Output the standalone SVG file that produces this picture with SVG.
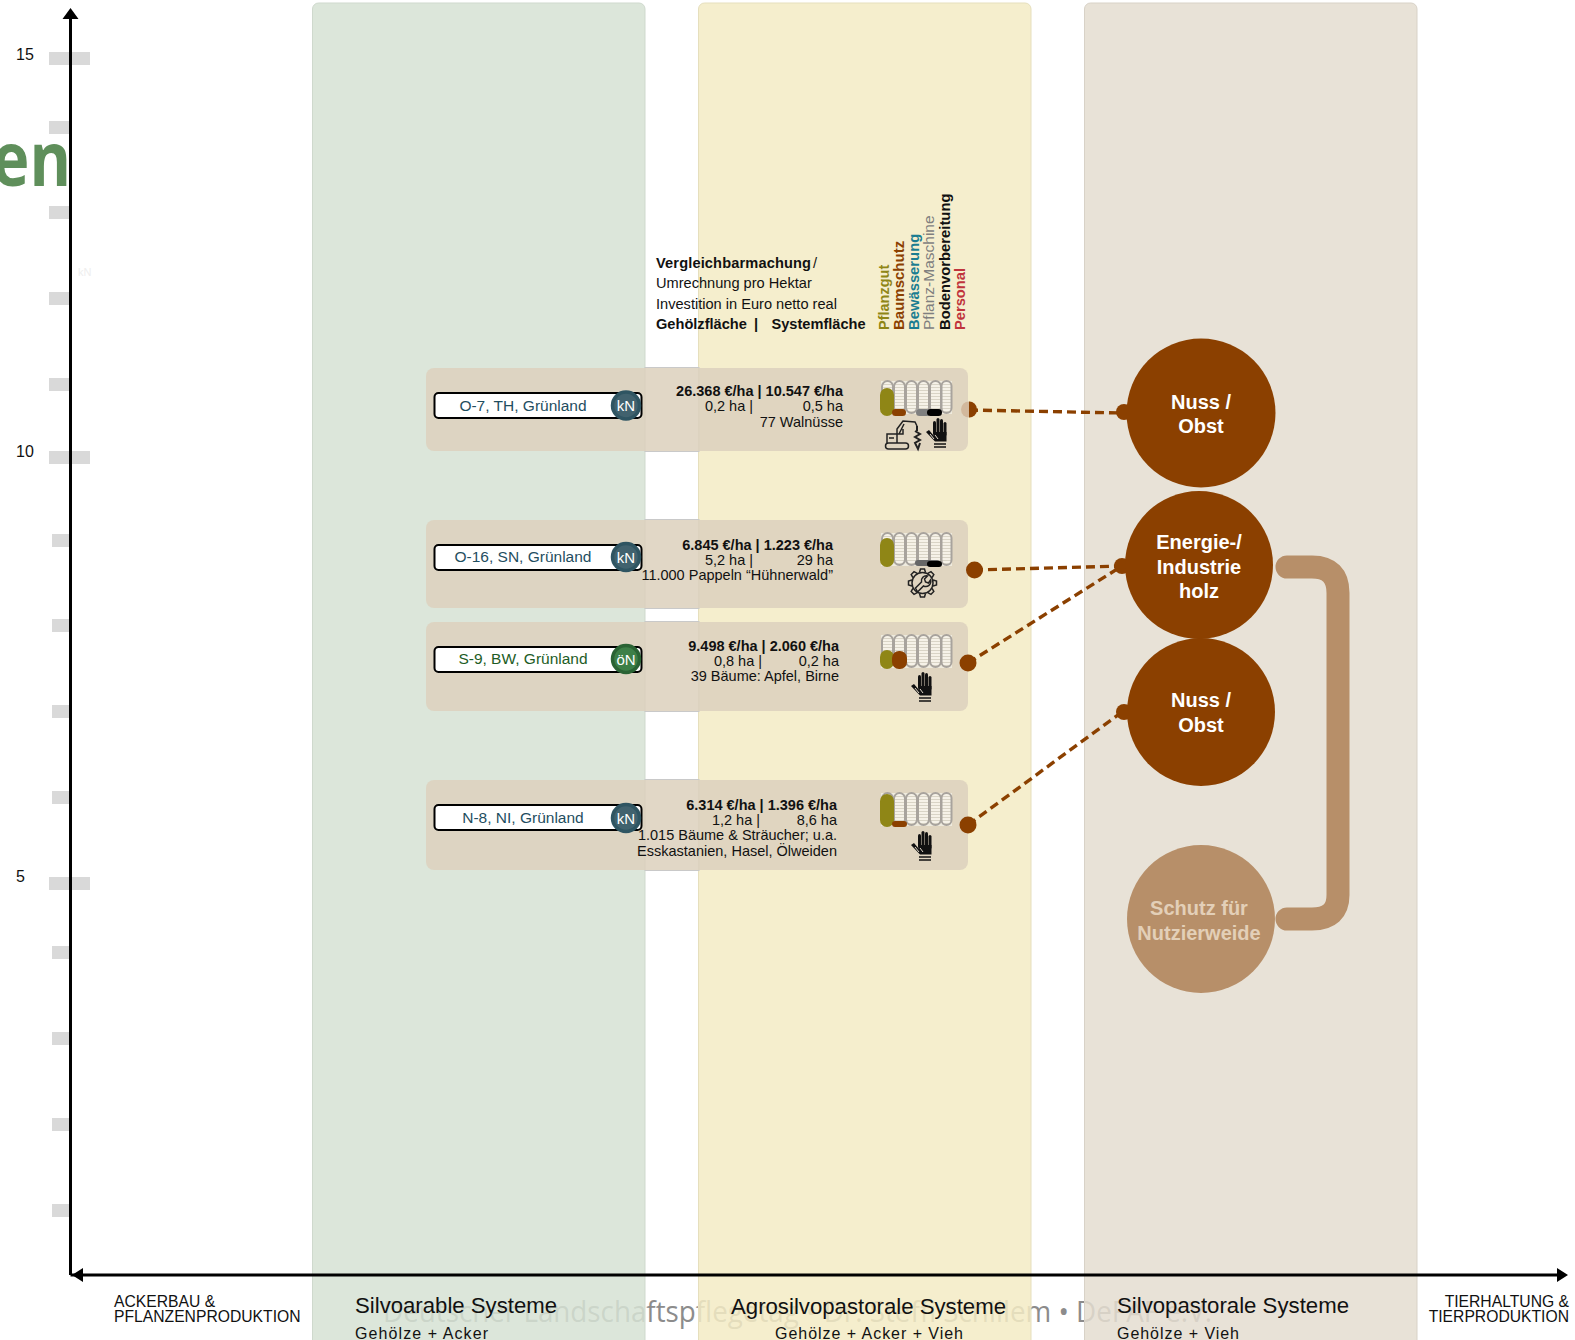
<svg xmlns="http://www.w3.org/2000/svg" width="1575" height="1340" viewBox="0 0 1575 1340">
<defs>
<style>
text{font-family:"Liberation Sans",Arial,sans-serif;fill:#111}
.r{text-anchor:end;font-size:14.5px}
.b{font-weight:bold}
.m{text-anchor:middle}
.tick{fill:#d9d9d9}
.panel{fill:#ddd2be;fill-opacity:.88;stroke:none}
.edge{fill:none;stroke:#c9c9c9;stroke-width:1}
.pill{fill:#fff;stroke:#000;stroke-width:2}
.lab{font-size:15.5px;text-anchor:middle}
.badge{stroke-width:3.5}
.badget{fill:#fff;font-size:15px;text-anchor:middle}
.conn{fill:none;stroke:#8b4000;stroke-width:3.4;stroke-dasharray:9 5}
.dot{fill:#8b4000}
.big{fill:#8b4000}
.bigt{fill:#fff;font-weight:bold;font-size:20px;text-anchor:middle}
.slot{fill:url(#stripes);stroke:#a8a39d;stroke-width:2}
.axis{fill:none;stroke:#000;stroke-width:3}
.leg{font-size:14.6px}
.ic{fill:none;stroke:#222;stroke-width:1.5}
.hw{fill:none;stroke:#e3dacb;stroke-width:1}
</style>
<pattern id="stripes" width="4" height="3" patternUnits="userSpaceOnUse"><rect width="4" height="3" fill="#f6f2e8"/><rect width="4" height="1" fill="#d9d4c6"/></pattern>
<g id="slots"><rect x="0" y="0" width="71" height="33" fill="#efebde"/><rect class="slot" x="1" y="0" width="11" height="32" rx="5.500"/><rect class="slot" x="13" y="0" width="11" height="32" rx="5.500"/><rect class="slot" x="25" y="0" width="11" height="32" rx="5.500"/><rect class="slot" x="37" y="0" width="11" height="32" rx="5.500"/><rect class="slot" x="49" y="0" width="11" height="32" rx="5.500"/><rect class="slot" x="60.500" y="0" width="10" height="32" rx="5"/></g>
<g id="hand"><g fill="#111"><rect x="-3" y="-11" width="3" height="14" rx="1.500"/><rect x="0.500" y="-14" width="3" height="17" rx="1.500"/><rect x="4" y="-13" width="3" height="16" rx="1.500"/><rect x="7.500" y="-10" width="3" height="14" rx="1.500"/><path d="M-3 0H10.500V9.500H-1ZM-10 0-7-2-2 4-1 9.500Z"/></g><path class="hw" d="M-6 2-2 7M-1 3 2 7"/><path d="M-2 12H10M-2 15H10" stroke="#111" stroke-width="1.500" fill="none"/></g>
<path id="tooth" d="M-3-10.500-2-14H2L3-10.500"/>
</defs>
<text x="383" y="1322" style="font-family:'Open Sans',sans-serif;font-size:30px;fill:#8c8c8c" textLength="829" lengthAdjust="spacingAndGlyphs">Deutscher Landschaftspflegetag • Dr. Steffi Schillem • DeFAF e.V.</text>
<text x="-8" y="186" style="font-family:'Open Sans',sans-serif;font-weight:bold;font-size:75px;fill:#5f8f5b" textLength="79" lengthAdjust="spacingAndGlyphs">en</text>
<g id="ticks">
<rect class="tick" x="49" y="52" width="41" height="13"/><rect class="tick" x="49" y="451" width="41" height="13"/><rect class="tick" x="49" y="877" width="41" height="13"/>
<rect class="tick" x="49" y="121" width="21" height="13"/><rect class="tick" x="49" y="206" width="21" height="13"/><rect class="tick" x="49" y="292" width="21" height="13"/><rect class="tick" x="49" y="378" width="21" height="13"/>
<rect class="tick" x="52" y="534" width="18" height="13"/><rect class="tick" x="52" y="619" width="18" height="13"/><rect class="tick" x="52" y="705" width="18" height="13"/><rect class="tick" x="52" y="791" width="18" height="13"/>
<rect class="tick" x="52" y="946" width="18" height="13"/><rect class="tick" x="52" y="1032" width="18" height="13"/><rect class="tick" x="52" y="1118" width="18" height="13"/><rect class="tick" x="52" y="1204" width="18" height="13"/>
</g>
<text x="16" y="60" font-size="16">15</text><text x="16" y="457" font-size="16">10</text><text x="16" y="882" font-size="16">5</text>
<text x="78" y="276" font-size="11" style="fill:#eee">kN</text>
<g id="bands">
<rect id="band-silvoarable" x="312.500" y="3" width="332.500" height="1345" rx="6" fill="#d6e2d4" fill-opacity=".85" stroke="#cfd9cd"/>
<rect id="band-agro" x="698.500" y="3" width="332.500" height="1345" rx="6" fill="#f3ebc4" fill-opacity=".85" stroke="#e6dfbd"/>
<rect id="band-silvopastoral" x="1084.500" y="3" width="332.500" height="1345" rx="6" fill="#e4ddd0" fill-opacity=".85" stroke="#d8d2c7"/>
</g>
<g id="axes">
<path class="axis" d="M70.500 1275V16M70.500 1275H1558"/>
<path d="M70.500 8 62.500 19H78.500ZM72 1275 83 1268V1282ZM1568 1275 1557 1268V1282Z" fill="#000"/>
</g>
<text x="114" y="1307" font-size="15.7">ACKERBAU &amp;</text><text x="114" y="1322" font-size="15.7">PFLANZENPRODUKTION</text>
<text x="1569" y="1307" font-size="15.7" text-anchor="end">TIERHALTUNG &amp;</text><text x="1569" y="1322" font-size="15.7" text-anchor="end">TIERPRODUKTION</text>
<text x="355" y="1313" font-size="22" textLength="202" lengthAdjust="spacingAndGlyphs">Silvoarable Systeme</text><text x="355" y="1339" font-size="16" textLength="133">Gehölze  + Acker</text>
<text x="731" y="1314" font-size="22" textLength="275" lengthAdjust="spacingAndGlyphs">Agrosilvopastorale Systeme</text><text x="775" y="1339" font-size="16" textLength="188">Gehölze  + Acker + Vieh</text>
<text x="1117" y="1313" font-size="22" textLength="232" lengthAdjust="spacingAndGlyphs">Silvopastorale Systeme</text><text x="1117" y="1339" font-size="16" textLength="122">Gehölze  + Vieh</text>
<g id="legend">
<text x="656" y="268" class="leg b" textLength="155">Vergleichbarmachung</text><text x="813" y="268" class="leg">/</text>
<text x="656" y="288" class="leg">Umrechnung pro Hektar</text>
<text x="656" y="309" class="leg">Investition in Euro netto real</text>
<text x="656" y="329" class="leg b">Gehölzfläche</text><text x="754" y="329" class="leg b">|</text><text x="771.500" y="329" class="leg b">Systemfläche</text>
<text transform="translate(889 330) rotate(-90)" style="fill:#8f8616;font-weight:bold;font-size:14.500px">Pflanzgut</text>
<text transform="translate(904 330) rotate(-90)" style="fill:#8b4000;font-weight:bold;font-size:15px">Baumschutz</text>
<text transform="translate(919 330) rotate(-90)" style="fill:#1b7d91;font-weight:bold;font-size:14.800px">Bewässerung</text>
<text transform="translate(934 330) rotate(-90)" style="fill:#7f7f7f;font-size:15.500px">Pflanz-Maschine</text>
<text transform="translate(950 330) rotate(-90)" style="fill:#111;font-weight:bold;font-size:14.800px">Bodenvorbereitung</text>
<text transform="translate(965 330) rotate(-90)" style="fill:#c0343c;font-weight:bold;font-size:14.700px">Personal</text>
</g>
<g id="row-o7">
<rect class="edge" x="645" y="367.500" width="54" height="84"/>
<rect class="panel" x="426" y="368" width="542" height="83" rx="8"/>
<rect class="pill" x="434.500" y="393" width="207" height="25" rx="4"/>
<text class="lab" x="523" y="411" style="fill:#1f4e5f">O-7, TH, Grünland</text>
<circle class="badge" cx="626" cy="405.500" r="13.500" fill="#41626e" stroke="#2f5562"/><text class="badget" x="626" y="411">kN</text>
<text class="r b" x="843" y="396">26.368 €/ha | 10.547 €/ha</text>
<text class="r" x="843" y="411">0,5 ha</text><text class="r" x="753" y="411">0,2 ha |</text>
<text class="r" x="843" y="427">77 Walnüsse</text>
<use href="#slots" x="881" y="381"/>
<rect x="880" y="388" width="14" height="28" rx="7" fill="#8f8616"/>
<rect x="892" y="409" width="14" height="7" rx="3.500" fill="#8b4000"/>
<rect x="916" y="409" width="14" height="7" rx="3.500" fill="#7f7f7f"/>
<rect x="927" y="409" width="15" height="7" rx="3.500" fill="#000"/>
<g id="icon-bagger" class="ic"><rect x="885.500" y="443" width="23" height="6" rx="3"/><path d="M887 443V434H897V429L903 421 915 422 917 426M897 443V434H903V429M899 434 904 424M889 438H894"/><path d="M917 426V431M915 431 920 434 915 437 920 440 915 443 918 449 920 443" stroke-width="2"/></g>
<use href="#hand" x="936" y="432"/>
</g>
<g id="row-o16">
<rect class="edge" x="645" y="519.500" width="54" height="89"/>
<rect class="panel" x="426" y="520" width="542" height="88" rx="8"/>
<rect class="pill" x="434.500" y="545" width="207" height="25" rx="4"/>
<text class="lab" x="523" y="562" style="fill:#1f4e5f">O-16, SN, Grünland</text>
<circle class="badge" cx="626" cy="557" r="13.500" fill="#41626e" stroke="#2f5562"/><text class="badget" x="626" y="562.500">kN</text>
<text class="r b" x="833" y="550">6.845 €/ha | 1.223 €/ha</text>
<text class="r" x="833" y="565">29 ha</text><text class="r" x="753" y="565">5,2 ha |</text>
<text class="r" x="833" y="580">11.000 Pappeln “Hühnerwald”</text>
<use href="#slots" x="881" y="533"/>
<rect x="880" y="538" width="14" height="29" rx="7" fill="#8f8616"/>
<rect x="915" y="560" width="25" height="6" rx="3" fill="#666"/>
<rect x="927" y="561" width="15" height="6" rx="3" fill="#000"/>
<g id="icon-gear" class="ic" transform="translate(922.500 583)"><use href="#tooth"/><use href="#tooth" transform="rotate(45)"/><use href="#tooth" transform="rotate(90)"/><use href="#tooth" transform="rotate(135)"/><use href="#tooth" transform="rotate(180)"/><use href="#tooth" transform="rotate(225)"/><use href="#tooth" transform="rotate(270)"/><use href="#tooth" transform="rotate(315)"/><circle r="10.500"/><path d="M-7 5-1-1A5 5 0 0 1 5-7L2-4 3-1 6 0 8-3A5 5 0 0 1 1 3L-5 9Z"/></g>
</g>
<g id="row-s9">
<rect class="edge" x="645" y="621.500" width="54" height="90"/>
<rect class="panel" x="426" y="622" width="542" height="89" rx="8"/>
<rect class="pill" x="434.500" y="647" width="207" height="25" rx="4"/>
<text class="lab" x="523" y="664" style="fill:#1d5c25">S-9, BW, Grünland</text>
<circle class="badge" cx="626" cy="659" r="13.500" fill="#3d7f47" stroke="#2a6334"/><text class="badget" x="626" y="664.500">öN</text>
<text class="r b" x="839" y="651">9.498 €/ha | 2.060 €/ha</text>
<text class="r" x="839" y="666">0,2 ha</text><text class="r" x="762" y="666">0,8 ha |</text>
<text class="r" x="839" y="681">39 Bäume: Apfel, Birne</text>
<use href="#slots" x="881" y="635"/>
<rect x="880" y="650" width="14" height="19" rx="7" fill="#8f8616"/>
<rect x="892" y="651" width="15" height="18" rx="7" fill="#8b4000"/>
<use href="#hand" x="921" y="686"/>
</g>
<g id="row-n8">
<rect class="edge" x="645" y="779.500" width="54" height="91"/>
<rect class="panel" x="426" y="780" width="542" height="90" rx="8"/>
<rect class="pill" x="434.500" y="805" width="207" height="25" rx="4"/>
<text class="lab" x="523" y="823" style="fill:#1f4e5f">N-8, NI, Grünland</text>
<circle class="badge" cx="626" cy="818" r="13.500" fill="#41626e" stroke="#2f5562"/><text class="badget" x="626" y="823.500">kN</text>
<text class="r b" x="837" y="810">6.314 €/ha | 1.396 €/ha</text>
<text class="r" x="837" y="825">8,6 ha</text><text class="r" x="760" y="825">1,2 ha |</text>
<text class="r" x="837" y="840">1.015 Bäume &amp; Sträucher; u.a.</text>
<text class="r" x="837" y="856">Esskastanien, Hasel, Ölweiden</text>
<use href="#slots" x="881" y="793"/>
<rect x="880" y="794" width="14" height="33" rx="7" fill="#8f8616"/>
<rect x="892" y="821" width="15" height="6" rx="3" fill="#8b4000"/>
<use href="#hand" x="921" y="845"/>
</g>
<g id="connectors">
<circle cx="969" cy="409.500" r="8" fill="#d2b89c"/>
<path class="dot" d="M969 401.500a8 8 0 0 1 0 16Z"/>
<path class="conn" d="M969 410 1122 413"/>
<path class="conn" d="M974 570 1122 566"/>
<path class="conn" d="M968 663 1122 566"/>
<path class="conn" d="M968 825 1122 712"/>
<circle class="dot" cx="974.500" cy="570" r="8.500"/>
<circle class="dot" cx="968" cy="663" r="8.500"/>
<circle class="dot" cx="968" cy="825" r="8.500"/>
<circle class="dot" cx="1124" cy="412" r="8"/>
<circle class="dot" cx="1122" cy="566" r="8"/>
<circle class="dot" cx="1124" cy="712" r="8"/>
<path d="M1287 567H1312Q1338 567 1338 593V895Q1338 919 1312 919H1287" fill="none" stroke="#b78f69" stroke-width="23" stroke-linecap="round"/>
</g>
<g id="node-nuss1"><circle class="big" cx="1201" cy="413" r="74.500"/><text class="bigt" x="1201" y="408.500">Nuss /</text><text class="bigt" x="1201" y="433">Obst</text></g>
<g id="node-energie"><circle class="big" cx="1199" cy="565" r="74"/><text class="bigt" x="1199" y="549">Energie-/</text><text class="bigt" x="1199" y="573.500">Industrie</text><text class="bigt" x="1199" y="597.500">holz</text></g>
<g id="node-nuss2"><circle class="big" cx="1201" cy="712" r="74"/><text class="bigt" x="1201" y="707">Nuss /</text><text class="bigt" x="1201" y="732">Obst</text></g>
<g id="node-schutz"><circle cx="1201" cy="919" r="74" fill="#b78f69"/><text class="bigt" x="1199" y="915" style="fill:#e3cfb8">Schutz für</text><text class="bigt" x="1199" y="940" style="fill:#e3cfb8">Nutzierweide</text></g>
</svg>
